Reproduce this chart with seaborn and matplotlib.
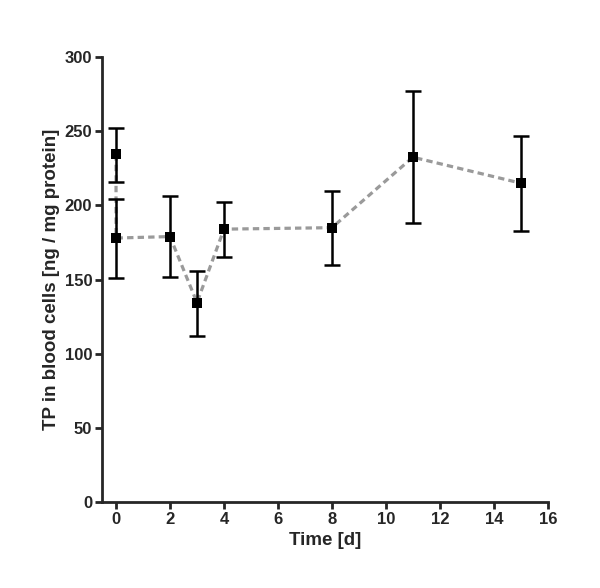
import numpy as np
import pandas as pd
import matplotlib
matplotlib.use("Agg")
import matplotlib.pyplot as plt
import seaborn as sns

# data
time_d = [0, 0, 2, 3, 4, 8, 11, 15]
tp_mean = [234.5, 178, 179, 134.5, 184, 185, 232.5, 215]
err_low = [215.5, 151, 152, 112, 165, 160, 188, 183]
err_high = [252.5, 204.5, 206.5, 156, 202.5, 210, 277, 247]

df = pd.DataFrame({"time": time_d, "tp": tp_mean, "lo": err_low, "hi": err_high})

sns.set_style("ticks")
plt.rcParams["font.family"] = ["Liberation Sans", "DejaVu Sans"]
plt.rcParams["font.weight"] = "bold"

fig = plt.figure(figsize=(6, 5.88), dpi=100)
ax = fig.add_axes([0.17, 0.146, 0.743, 0.757])

# dashed gray connecting line
sns.lineplot(data=df, x="time", y="tp", sort=False, estimator=None, ax=ax,
             color="#9a9a9a", lw=2.3, linestyle=(0, (2.0, 1.3)), zorder=2)

# error bars
yerr = np.vstack([df["tp"] - df["lo"], df["hi"] - df["tp"]])
ax.errorbar(df["time"], df["tp"], yerr=yerr, fmt="none", ecolor="black",
            elinewidth=1.8, capsize=5.5, capthick=1.8, zorder=3)

# square markers
sns.scatterplot(data=df, x="time", y="tp", marker="s", s=45, color="black",
                edgecolor="black", linewidth=0, ax=ax, zorder=4)

ax.set_xlim(-0.52, 16)
ax.set_ylim(0, 300)
ax.set_xticks(range(0, 17, 2))
ax.set_yticks(range(0, 301, 50))
sns.despine(ax=ax)
for s in ["left", "bottom"]:
    ax.spines[s].set_linewidth(2)
ax.tick_params(axis="both", direction="out", length=5, width=2,
               labelsize=12, pad=2)
for lab in ax.get_xticklabels() + ax.get_yticklabels():
    lab.set_fontweight("bold")
ax.set_xlabel("Time [d]", fontsize=13.5, fontweight="bold", labelpad=4)
ax.set_ylabel("TP in blood cells [ng / mg protein]", fontsize=13.5,
              fontweight="bold", labelpad=3)

fig.savefig("out.png", dpi=100)
